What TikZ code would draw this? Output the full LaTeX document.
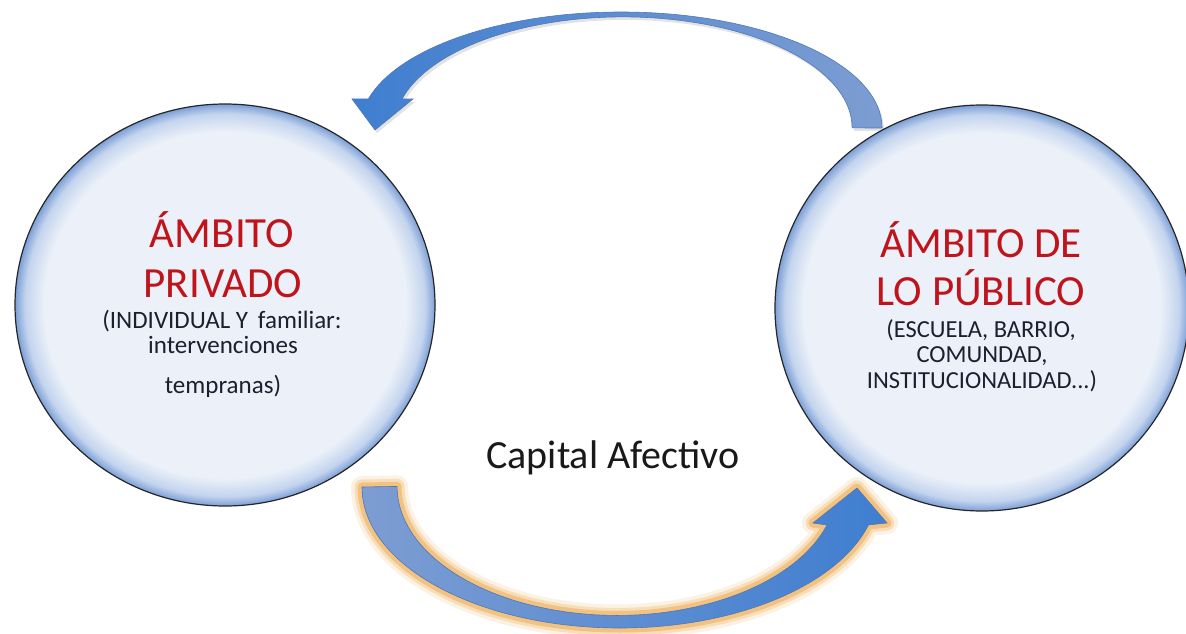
\documentclass[tikz,border=0pt]{standalone}
\usepackage{fontspec}
\setmainfont{Carlito}
\usetikzlibrary{shapes.geometric}
\definecolor{cin}{HTML}{ECF1F9}
\definecolor{cmid}{HTML}{C3D4EE}
\definecolor{cout}{HTML}{7C9FD6}
\definecolor{titlered}{HTML}{C0141C}
\definecolor{subdark}{HTML}{1E1E2E}
\definecolor{arrowA}{HTML}{3F7ED0}
\definecolor{arrowB}{HTML}{7D9DD2}
\definecolor{glow}{HTML}{F0BE78}
\definecolor{edgeblue}{HTML}{5077B8}
\pgfdeclareradialshading{bubble}{\pgfpoint{0bp}{0bp}}{color(0bp)=(cin); color(21.5bp)=(cin); color(23.8bp)=(cmid); color(25bp)=(cout); color(50bp)=(cout)}
\tikzset{
  bubblenode/.style={ellipse, draw=black!85, line width=1.2, shading=bubble, inner sep=0},
  titletext/.style={text=titlered, font=\fontsize{43}{50}\selectfont, anchor=base, inner sep=0},
  subtext/.style={text=subdark, font=\fontsize{25}{28}\selectfont, anchor=base, inner sep=0},
  subtextr/.style={text=subdark, font=\fontsize{24.5}{28}\selectfont, anchor=base, inner sep=0},
  captext/.style={text=black!90, font=\fontsize{40}{46}\selectfont, anchor=base, inner sep=0},
  toparrow/.style={left color=arrowA, right color=arrowB, draw=edgeblue, line width=0.6,
     preaction={fill=black!45, opacity=0.25, transform canvas={shift={(2pt,-3pt)}}}},
  botarrow/.style={left color=arrowB, right color=arrowA, draw=edgeblue, line width=0.6,
     preaction={draw=glow, line width=22, opacity=0.2, line join=round},
     preaction={draw=glow, line width=15, opacity=0.4, line join=round},
     preaction={draw=glow, line width=9, opacity=0.85, line join=round}},
}
\begin{document}
\begin{tikzpicture}[x=1pt, y=-1pt]
\useasboundingbox (0,0) rectangle (1186,634);
\fill[white] (0,0) rectangle (1186,634);

% connectors (curved block arrows)
\coordinate (topstart) at (882,128);
\coordinate (botstart) at (362,487);
\path[toparrow] (topstart)
  arc[start angle=0, end angle=-165.5, x radius=261, y radius=116]
  -- (352,99) -- (375,130) -- (413,99) -- (402,99)
  arc[start angle=-164.9, end angle=0, x radius=229, y radius=111] -- cycle;
\path[botarrow] (botstart)
  arc[start angle=180, end angle=15.6, x radius=258, y radius=141]
  -- (887,523) -- (857,488) -- (813,523) -- (827,525)
  arc[start angle=17.4, end angle=180, x radius=220, y radius=129] -- cycle;

% circles
\node[bubblenode, minimum width=420, minimum height=402] (L) at (225,305) {};
\node[bubblenode, minimum width=414, minimum height=406] (R) at (982,308) {};

% texts
\node[titletext] (l1) at (222,247) {ÁMBITO};
\node[titletext] (l2) at (223,297) {PRIVADO};
\node[subtext] (l3) at (222,328) {(INDIVIDUAL Y\, familiar:};
\node[subtext] (l4) at (223,353) {intervenciones};
\node[subtext] (l5) at (223,393) {tempranas)};

\node[titletext] (r1) at (981,257) {ÁMBITO DE};
\node[titletext] (r2) at (981,305) {LO PÚBLICO};
\node[subtextr] (r3) at (981,337) {(ESCUELA, BARRIO,};
\node[subtextr] (r4) at (982,362) {COMUNDAD,};
\node[subtextr] (r5) at (982,388) {INSTITUCIONALIDAD...)};

\node[captext] (cap) at (613,468) {Capital Afectivo};
\end{tikzpicture}
\end{document}
